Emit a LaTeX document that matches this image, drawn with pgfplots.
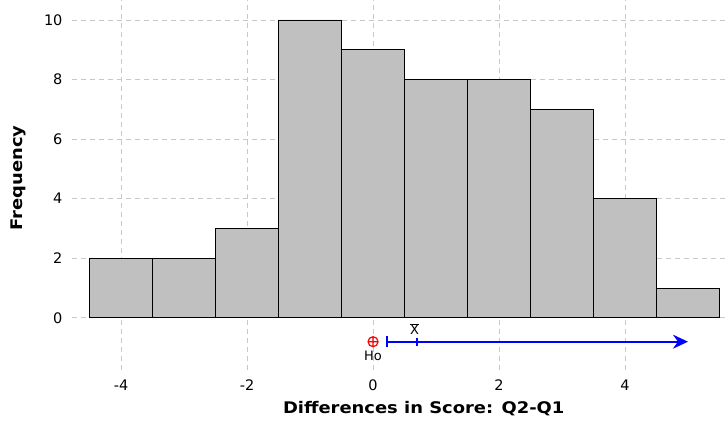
\documentclass[border=0pt]{standalone}
\usepackage{pgfplots}
\pgfplotsset{compat=1.18}
\usepackage{fontspec}
\setmainfont{DejaVu Sans}
\newfontfamily\labelfont[FakeStretch=1.12]{DejaVu Sans}
\usetikzlibrary{arrows.meta}
\definecolor{barfill}{HTML}{C0C0C0}
\definecolor{gridc}{HTML}{C8C8C8}
\begin{document}
\begin{tikzpicture}
\begin{axis}[
  name=main,
  scale only axis, width=655pt, height=370pt,
  xmin=-4.78, xmax=5.62, ymin=-1.75, ymax=10.67,
  axis line style={draw=none},
  xtick={-4,-2,0,2,4}, ytick={0,2,4,6,8,10},
  major tick length=0pt,
  grid=major, grid style={gridc, line width=0.9pt, dash pattern=on 5pt off 4pt},
  tick label style={font=\fontsize{14.5}{16}\selectfont},
  /pgf/number format/assume math mode=true,
  xticklabel style={anchor=base, yshift=-21pt},
  yticklabel style={xshift=-6pt},
  xlabel={Differences in Score: Q2-Q1},
  ylabel={Frequency},
  label style={font=\labelfont\fontsize{16}{18}\selectfont\bfseries},
  xlabel style={at={(axis description cs:0.537,0)}, anchor=base, yshift=-44pt},
  ylabel style={at={(axis description cs:-0.0824,0.519)}, anchor=center},
  clip=false,
]
\addplot[ybar interval, fill=barfill, draw=black, line width=0.8pt]
  coordinates {(-4.5,2) (-3.5,2) (-2.5,3) (-1.5,10) (-0.5,9) (0.5,8) (1.5,8) (2.5,7) (3.5,4) (4.5,1) (5.5,1)};
\addplot[blue, line width=1.7pt, {Bar[width=11pt]}-{Stealth[length=15pt,width=14pt,inset=5pt]}]
  coordinates {(0.206,-0.80) (5.0,-0.80)};
\addplot[blue, only marks, mark=|, mark size=4pt, line width=1.7pt]
  coordinates {(0.70,-0.80)};
\addplot[red, only marks, mark=oplus, mark size=5pt, line width=1.2pt]
  coordinates {(0,-0.80)};
\node[anchor=base, inner sep=0pt, font=\fontsize{13}{14}\selectfont] at (axis cs:0.66,-0.57) {$\overline{\mbox{X}}$};
\node[anchor=base, inner sep=0pt, font=\fontsize{13}{14}\selectfont] at (axis cs:0,-1.443) {Ho};
\end{axis}
\pgfresetboundingbox
\useasboundingbox ([shift={(-72pt,-52pt)}]main.south west) rectangle (main.north east);
\end{tikzpicture}
\end{document}
